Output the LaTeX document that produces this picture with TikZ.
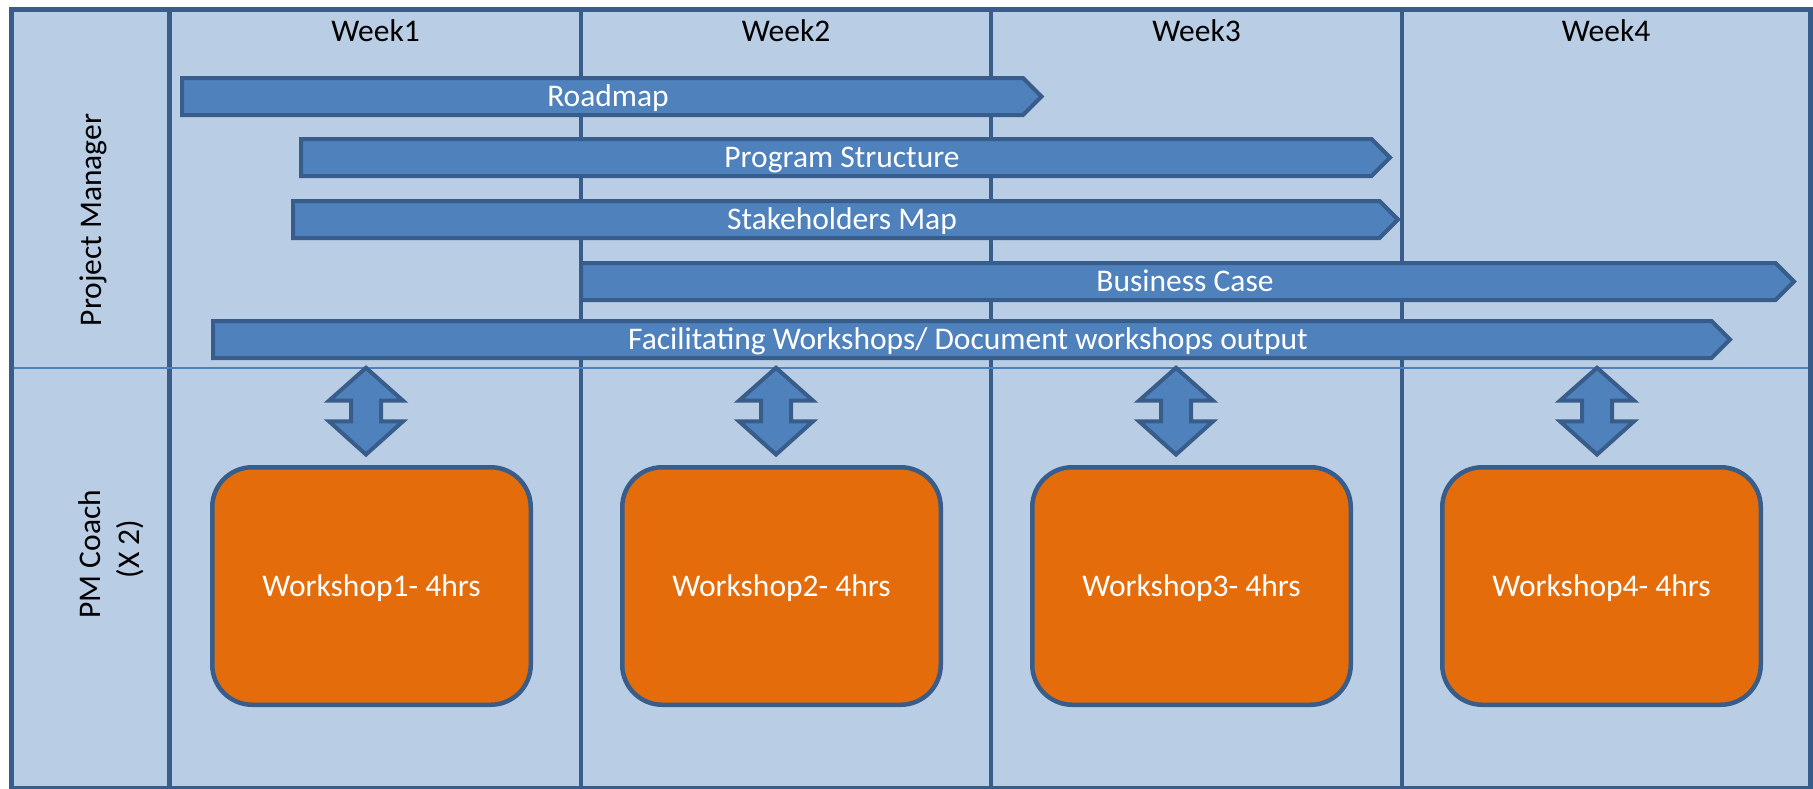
\documentclass[tikz,border=0pt]{standalone}
\usepackage{fontspec}
\setmainfont{Carlito}
\definecolor{bgblue}{HTML}{B9CDE5}
\definecolor{darkblue}{HTML}{385D8A}
\definecolor{barblue}{HTML}{4F81BD}
\definecolor{boxorange}{HTML}{E46C0A}
\begin{document}
\begin{tikzpicture}[x=1pt,y=-1pt,
  txt/.style={font=\fontsize{31.5}{38}\selectfont, inner sep=0pt},
  weeklbl/.style={txt, anchor=base, text=black},
  sidelbl/.style={txt, anchor=base, rotate=90, text=black},
  bartext/.style={txt, anchor=base, text=white},
  frameline/.style={draw=darkblue, line width=4.5pt},
  colline/.style={draw=darkblue, line width=4.5pt},
  rowline/.style={draw=barblue, line width=2pt},
  bar/.style={fill=barblue, draw=darkblue, line width=4pt, line join=miter},
  dblarrow/.style={fill=barblue, draw=darkblue, line width=4pt, line join=miter},
  wbox/.style={txt, fill=boxorange, draw=darkblue, line width=4.5pt,
    rounded corners=40pt, minimum width=318.5pt, minimum height=237.5pt,
    text=white, text height=20pt, text depth=0pt}
]
\useasboundingbox (0,0) rectangle (1813,788);
% background
\fill[bgblue] (11.5,9.5) rectangle (1810.5,788);
% column lines
\foreach \cx in {169.5,581,991,1402}
  \draw[colline] (\cx,9.5) -- (\cx,788);
% row separator
\draw[rowline] (11.5,367.5) -- (1810.5,367.5);
% outer frame
\draw[frameline] (11.5,9.5) rectangle (1810.5,788);

% week labels
\node[weeklbl] (w1) at (375.5,41.7) {Week1};
\node[weeklbl] (w2) at (786,41.7) {Week2};
\node[weeklbl] (w3) at (1196.5,41.7) {Week3};
\node[weeklbl] (w4) at (1606,41.7) {Week4};

% side labels
\node[sidelbl] (pm) at (101,220) {Project Manager};
\node[sidelbl] (coachA) at (100,554) {PM Coach};
\node[sidelbl] (coachB) at (139,549) {(X 2)};

% bars
\draw[bar] (182,78) -- (1023,78) -- (1041.5,96.5) -- (1023,115) -- (182,115) -- cycle;
\node[bartext] (roadmap) at (608,106.5) {Roadmap};

\draw[bar] (301,139) -- (1371.5,139) -- (1390,157.5) -- (1371.5,176) -- (301,176) -- cycle;
\node[bartext] (progstruct) at (842,167.5) {Program Structure};

\draw[bar] (293,201) -- (1379.5,201) -- (1398,219.5) -- (1379.5,238) -- (293,238) -- cycle;
\node[bartext] (stakeholders) at (842,229.5) {Stakeholders Map};

\draw[bar] (581,263) -- (1775.5,263) -- (1794,281.5) -- (1775.5,300) -- (581,300) -- cycle;
\node[bartext] (bizcase) at (1185,291.5) {Business Case};

\draw[bar] (213,321) -- (1711.5,321) -- (1730,339.5) -- (1711.5,358) -- (213,358) -- cycle;
\node[bartext] (facilitating) at (968,349.5) {Facilitating Workshops/ Document workshops output};

% double arrows
\foreach \cx in {366,776,1176,1597}
  \draw[dblarrow] (\cx,367.8) -- (\cx+37,400.7) -- (\cx+15,400.7) -- (\cx+15,421.3)
    -- (\cx+37,421.3) -- (\cx,454.5) -- (\cx-37,421.3) -- (\cx-15,421.3)
    -- (\cx-15,400.7) -- (\cx-37,400.7) -- cycle;

% workshop boxes
\node[wbox] (ws1) at (371.5,586) {Workshop1- 4hrs};
\node[wbox] (ws2) at (781.5,586) {Workshop2- 4hrs};
\node[wbox] (ws3) at (1191.5,586) {Workshop3- 4hrs};
\node[wbox] (ws4) at (1601.5,586) {Workshop4- 4hrs};
\end{tikzpicture}
\end{document}
